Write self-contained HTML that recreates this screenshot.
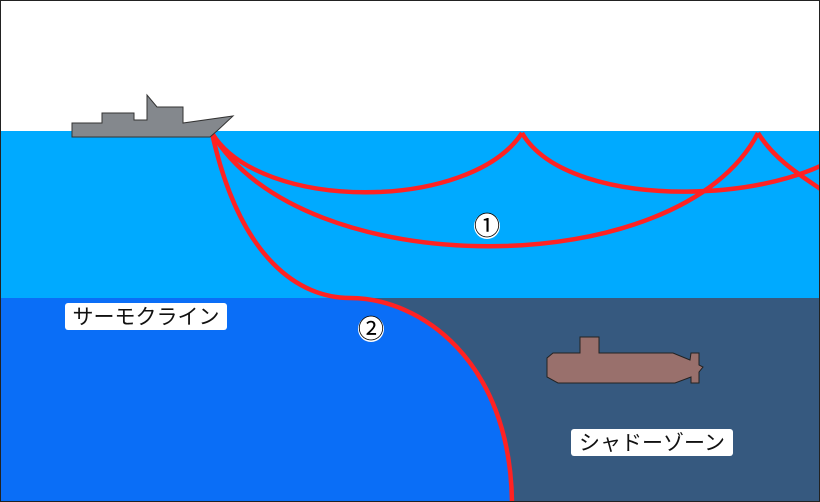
<!DOCTYPE html>
<html><head><meta charset="utf-8"><style>
html,body{margin:0;padding:0;background:#fff}
svg{display:block}
text{font-family:"Liberation Sans","Noto Sans CJK JP",sans-serif}
</style></head><body>
<svg width="820" height="502" viewBox="0 0 820 502" xmlns="http://www.w3.org/2000/svg">
<rect x="0" y="0" width="820" height="131" fill="#fff"/>
<rect x="0" y="131" width="820" height="167" fill="#00AAFF"/>
<rect x="0" y="298" width="820" height="204" fill="#36597F"/>
<path d="M0,298 L350,298 C420,298 510,360 512,502 L0,502 Z" fill="#0A6EF7"/>
<g fill="none" stroke="#FF2222" stroke-width="4.5">
<path d="M212,133 C260,212 470,212 522,133"/>
<path d="M522,133 C570,215 800,205 858,140"/>
<path d="M212,133 C300,284 680,284 758,133"/>
<path d="M758,133 C775,160 800,175 822,190"/>
<path d="M212,133 C240,260 300,298 350,298 C420,298 510,360 512,502"/>
</g>
<polygon points="72,123 102,123 102,113 134,113 134,120 147,120 147,95 157,107 183,107 183,123 233,116 218,130 210,137 72,137" fill="#84888D" stroke="#333" stroke-width="1"/>
<polygon points="553,353 580,353 580,337 599,337 599,353 673,353 690,360 691,353 699,353 699,365 703,367 699,372 699,383 691,383 691,377 675,383 558,383 547,377 547,358" fill="#99706C" stroke="#222" stroke-width="1"/>
<circle cx="487" cy="226" r="13" fill="#fff"/>
<text x="487" y="235" font-size="26" text-anchor="middle" fill="#000">①</text>
<circle cx="371" cy="329" r="13" fill="#fff"/>
<text x="371" y="338" font-size="26" text-anchor="middle" fill="#000">②</text>
<rect x="65" y="303" width="162" height="27" rx="3" fill="#fff"/>
<text x="146" y="324" font-size="21" text-anchor="middle" fill="#111">サーモクライン</text>
<rect x="571" y="429" width="162" height="27" rx="3" fill="#fff"/>
<text x="652" y="450" font-size="21" text-anchor="middle" fill="#111">シャドーゾーン</text>
<rect x="0.5" y="0.5" width="819" height="501" fill="none" stroke="#222" stroke-width="1"/>
</svg>
</body></html>
